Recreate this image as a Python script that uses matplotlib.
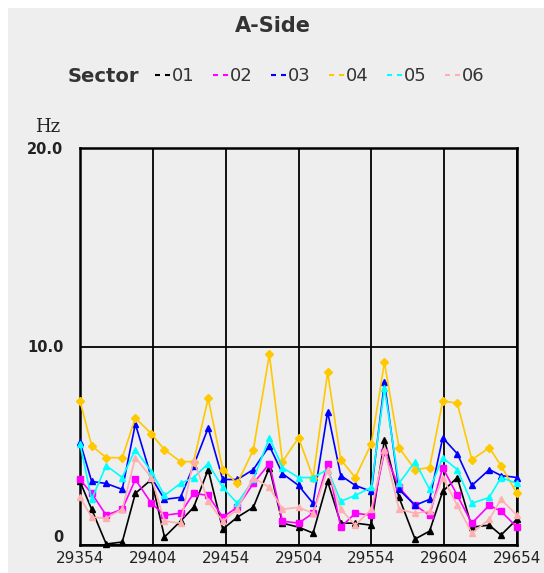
import matplotlib
matplotlib.use("Agg")
import matplotlib.pyplot as plt
from matplotlib.patches import Rectangle
from matplotlib.lines import Line2D

# ---- data ----
runs = [29354, 29362, 29372, 29383, 29392, 29403, 29412, 29423, 29432, 29442,
        29452, 29462, 29473, 29484, 29493, 29504, 29514, 29524, 29533, 29543,
        29554, 29563, 29573, 29584, 29594, 29603, 29613, 29623, 29635, 29643,
        29654]

sector_01 = [3.2, 1.8, 0.05, 0.15, 2.6, 3.3, 0.4, 1.2, 1.9, 3.8,
             0.8, 1.4, 1.9, 3.9, 1.1, 0.9, 0.6, 3.2, 1.1, 1.1,
             1.0, 5.3, 2.4, 0.3, 0.7, 2.7, 3.4, 0.9, 1.0, 0.5, 1.3]
sector_02 = [3.3, 2.6, 1.5, 1.8, 3.3, 2.1, 1.5, 1.6, 2.6, 2.5,
             1.4, 1.9, 3.1, 4.1, 1.2, 1.1, 1.6, 4.1, 0.9, 1.6,
             1.5, 4.7, 2.9, 2.0, 1.5, 3.9, 2.5, 1.1, 2.0, 1.7, 0.9]
sector_03 = [5.2, 3.2, 3.1, 2.8, 6.1, 3.4, 2.3, 2.4, 4.0, 5.9,
             3.3, 3.3, 3.8, 5.0, 3.6, 3.0, 2.1, 6.7, 3.5, 3.0,
             2.7, 8.2, 2.8, 2.0, 2.3, 5.4, 4.6, 3.0, 3.8, 3.5, 3.4]
sector_04 = [7.25, 5.0, 4.4, 4.4, 6.4, 5.6, 4.8, 4.2, 4.2, 7.4,
             3.8, 3.1, 4.8, 9.6, 4.2, 5.4, 3.4, 8.7, 4.3, 3.4,
             5.1, 9.2, 4.9, 3.8, 3.9, 7.25, 7.15, 4.3, 4.9, 4.0, 2.6]
sector_05 = [5.1, 2.3, 4.0, 3.4, 4.8, 3.7, 2.5, 3.1, 3.4, 4.1,
             2.9, 2.1, 3.3, 5.4, 3.9, 3.4, 3.4, 3.8, 2.2, 2.5,
             2.9, 7.9, 3.1, 4.2, 2.8, 4.4, 3.8, 2.1, 2.4, 3.4, 3.1]
sector_06 = [2.4, 1.4, 1.35, 1.8, 4.4, 3.4, 1.2, 1.1, 4.3, 2.2,
             1.2, 1.8, 3.4, 2.9, 1.8, 1.9, 1.6, 3.8, 1.8, 1.0,
             1.8, 4.8, 1.8, 1.6, 1.7, 3.4, 2.0, 0.6, 1.3, 2.3, 1.5]

sector_names = ["01", "02", "03", "04", "05", "06"]
sector_values = [sector_01, sector_02, sector_03, sector_04, sector_05, sector_06]
colors = ["#000000", "#ff00ff", "#0000ff", "#ffc800", "#00ffff", "#ffafaf"]
markers = ["^", "s", "^", "D", "^", "^"]

x_ticks = [29354, 29404, 29454, 29504, 29554, 29604, 29654]
y_ticks = [0, 10, 20]
y_tick_labels = ["0", "10.0", "20.0"]

# ---- figure ----
W, H = 544, 573
fig = plt.figure(figsize=(W / 100, H / 100), dpi=100, facecolor="#eeeeee")
# white strips on top and left
fig.patches.append(Rectangle((0, 1 - 8 / H), 1, 8 / H, transform=fig.transFigure,
                             facecolor="white", edgecolor="none", zorder=0))
fig.patches.append(Rectangle((0, 0), 8 / W, 1, transform=fig.transFigure,
                             facecolor="white", edgecolor="none", zorder=0))

left, right, top, bottom = 80, 517, 148, 545
ax = fig.add_axes([left / W, 1 - bottom / H, (right - left) / W, (bottom - top) / H])
ax.set_facecolor("#eeeeee")

for vals, c, m in zip(sector_values, colors, markers):
    ax.plot(runs, vals, color=c, lw=1.2, marker=m, ms=4, mec=c, mfc=c,
            zorder=3, clip_on=False)

ax.set_xlim(29354, 29654)
ax.set_ylim(0, 20)
ax.set_xticks(x_ticks)
ax.set_xticklabels([str(t) for t in x_ticks])
ax.set_yticks(y_ticks)
ax.set_yticklabels(y_tick_labels)
ax.tick_params(axis="both", length=0, colors="#222222")
ax.tick_params(axis="x", labelsize=11, pad=4)
ax.tick_params(axis="y", labelsize=10.5, pad=12)
for lab in ax.get_yticklabels():
    lab.set_fontweight("bold")
ax.get_yticklabels()[0].set_verticalalignment("bottom")
ax.grid(True, color="black", lw=1.3, zorder=1)
for s in ax.spines.values():
    s.set_color("black")
    s.set_linewidth(1.8)

# title
fig.text(273 / W, 1 - 26 / H, "A-Side", ha="center", va="center",
         fontsize=15, fontweight="bold", color="#333333")
# legend
ly = 1 - 75 / H
fig.text(68 / W, 1 - 76 / H, "Sector", ha="left", va="center",
         fontsize=14, fontweight="bold", color="#333333")
for i, (name, c) in enumerate(zip(sector_names, colors)):
    x0 = 155 + 58 * i
    for dx in (0, 10):
        fig.lines.append(Line2D([(x0 + dx) / W, (x0 + dx + 5) / W], [ly, ly],
                                transform=fig.transFigure, color=c, lw=1.5,
                                solid_capstyle="butt"))
    fig.text((x0 + 17) / W, 1 - 76 / H, name, ha="left", va="center",
             fontsize=13, color="#333333")

# y unit label
fig.text(35 / W, 1 - 127 / H, "Hz", ha="left", va="center",
         fontsize=13, family="DejaVu Serif", color="#222222")

fig.savefig("out.png", dpi=100, facecolor=fig.get_facecolor())
